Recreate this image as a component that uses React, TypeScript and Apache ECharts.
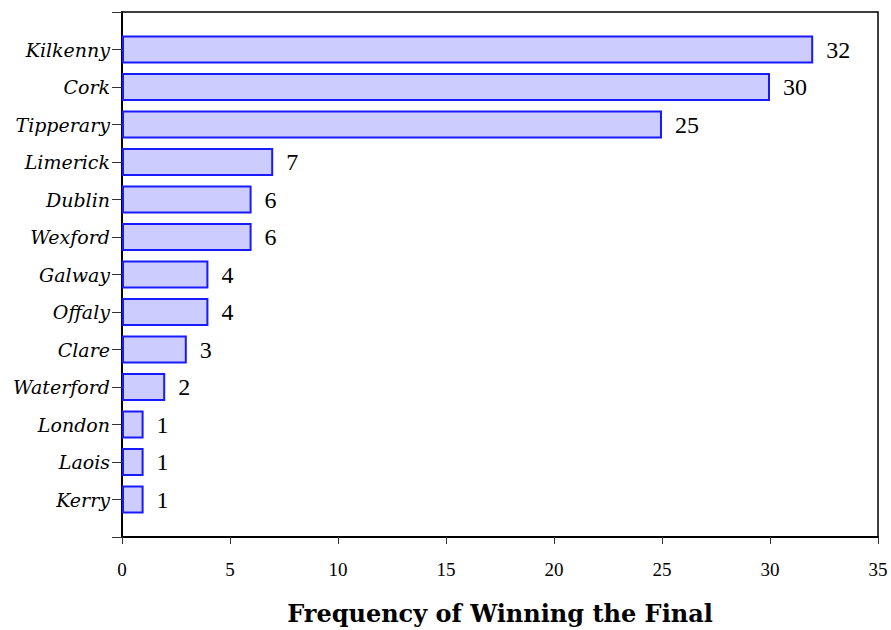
import React, { useEffect, useRef } from "react";
import * as echarts from "echarts";

const categories = ["Kilkenny", "Cork", "Tipperary", "Limerick", "Dublin", "Wexford", "Galway", "Offaly", "Clare", "Waterford", "London", "Laois", "Kerry"];
const wins = [32, 30, 25, 7, 6, 6, 4, 4, 3, 2, 1, 1, 1];
const xTicks = { min: 0, max: 35, interval: 5 };
const xTitle = "Frequency of Winning the Final";

export default function App() {
  const ref = useRef<HTMLDivElement>(null);
  useEffect(() => {
    if (!ref.current) return;
    const chart = echarts.init(ref.current, undefined, { renderer: "svg" });
    const axisCats = ["", ...categories, ""];
    const data = ["-", ...wins, "-"];
    chart.setOption({
      animation: false,
      backgroundColor: "#fff",
      grid: {
        left: 122, top: 12, right: 13, bottom: 90,
        show: true, borderColor: "#000", borderWidth: 1.5, backgroundColor: "transparent",
      },
      xAxis: {
        type: "value",
        min: xTicks.min, max: xTicks.max, interval: xTicks.interval,
        splitLine: { show: false },
        axisLine: { show: true, lineStyle: { color: "#000", width: 2 } },
        axisTick: { show: true, length: 7, lineStyle: { color: "#333", width: 1 } },
        axisLabel: { color: "#000", fontFamily: "Liberation Serif", fontSize: 19, margin: 23 },
        name: xTitle,
        nameLocation: "middle",
        nameGap: 64,
        nameTextStyle: { color: "#000", fontFamily: "DejaVu Serif", fontWeight: "bold", fontSize: 24 },
      },
      yAxis: {
        type: "category",
        data: axisCats,
        inverse: true,
        boundaryGap: false,
        axisLine: { show: true, lineStyle: { color: "#000", width: 2 } },
        axisTick: { show: true, length: 10, alignWithLabel: true, lineStyle: { color: "#333", width: 1 } },
        axisLabel: { color: "#000", fontFamily: "DejaVu Serif", fontStyle: "italic", fontSize: 19, margin: 12, interval: 0 },
        splitLine: { show: false },
      },
      series: [
        {
          type: "bar",
          data,
          barWidth: 28,
          itemStyle: { color: "#ccccff", borderColor: "#1a1aff", borderWidth: 2 },
          label: {
            show: true, position: "right", distance: 13,
            color: "#000", fontFamily: "Liberation Serif", fontSize: 24,
          },
        },
      ],
    });
    return () => chart.dispose();
  }, []);
  return <div ref={ref} style={{ position: "fixed", left: 0, top: 0, width: 891, height: 630 }} />;
}
